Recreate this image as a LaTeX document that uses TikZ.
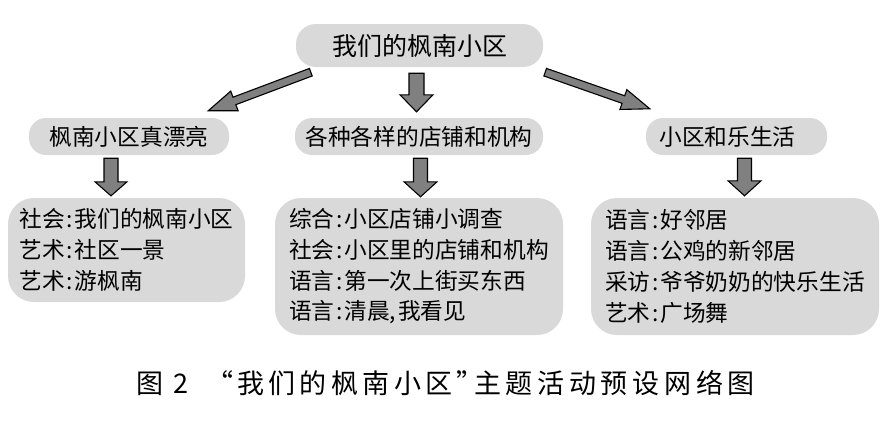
\documentclass[tikz,border=0pt]{standalone}
\usepackage{fontspec}
\usetikzlibrary{calc}
\newfontfamily\cjk{Noto Sans CJK SC}
\definecolor{boxgray}{RGB}{217,217,217}
\definecolor{arrgray}{RGB}{128,128,128}
\newcommand\cln{\kern1.5pt:\kern2pt}
\newcommand\cb[2]{\makebox[#1pt][l]{#2}}
\newcommand\ca[1]{\cb{31.4}{#1}}
\newcommand\cc[1]{\cb{31.75}{#1}}
\tikzset{
  x=1pt, y=-1pt,
  topbox/.style={fill=boxgray, rounded corners=20pt, inner sep=0pt, minimum width=247pt, minimum height=43pt, font={\cjk\fontsize{25pt}{30pt}\selectfont}},
  midbox/.style={fill=boxgray, rounded corners=17pt, inner sep=0pt, minimum height=37pt, font={\cjk\fontsize{22.7pt}{28pt}\selectfont}},
  leafbox/.style={fill=boxgray, rounded corners=26pt, inner sep=0pt, align=left, font={\cjk\fontsize{22.7pt}{30.7pt}\selectfont}},
  arrowstyle/.style={draw=black, fill=arrgray, line width=1.1pt, line join=miter},
  captext/.style={inner sep=0pt, font={\cjk\fontsize{27pt}{30pt}\selectfont}}
}
% block arrow: from, to, shaft half width, head half width, head length
\newcommand\blockarr[5]{%
  \draw[arrowstyle] let \p1=(#1), \p2=(#2),
    \n1={veclen(\x2-\x1,\y2-\y1)}, \n2={atan2(\y2-\y1,\x2-\x1)} in
    [shift={(\p1)}, rotate=\n2]
    (0pt,-#3pt) -- (\n1*1pt-#5pt,-#3pt) -- (\n1*1pt-#5pt,-#4pt) -- (\n1*1pt,0pt)
    -- (\n1*1pt-#5pt,#4pt) -- (\n1*1pt-#5pt,#3pt) -- (0pt,#3pt) -- cycle;}
\begin{document}
\begin{tikzpicture}
\useasboundingbox (0,0) rectangle (888,423);
\fill[white] (0,0) rectangle (888,423);

\node[topbox] (top) at (419.5,45.5) {我们的枫南小区};

\node[midbox, minimum width=200pt] (m1) at (129,136.5) {枫南小区真漂亮};
\node[midbox, minimum width=248pt] (m2) at (419,136.5) {各种各样的店铺和机构};
\node[midbox, minimum width=181pt] (m3) at (736.5,136.5) {小区和乐生活\hspace*{18pt}};

\node[leafbox, minimum width=237pt, minimum height=104pt] (l1) at (126.5,250)
  {社会\cln 我们的枫南小区\\艺术\cln 社区一景\\艺术\cln 游枫南};
\node[leafbox, minimum width=288pt, minimum height=137pt] (l2) at (419,266.5)
  {综合\cln 小区店铺小调查\\社会\cln 小区里的店铺和机构\\语言\cln 第一次上街买东西\\语言\cln 清晨,\kern2pt 我看见};
\node[leafbox, minimum width=288pt, minimum height=137pt] (l3) at (735,266.5)
  {语言\cln 好邻居\\语言\cln 公鸡的新邻居\\采访\cln 爷爷奶奶的快乐生活\\艺术\cln 广场舞};

% connector end points
\coordinate (a1s) at ([shift={(15,5)}]top.south west);
\coordinate (a1e) at ([shift={(-21,-7)}]m1.north east);
\coordinate (a2s) at ([shift={(-3,6)}]top.south);
\coordinate (a2e) at ([shift={(-2.5,-6)}]m2.north);
\coordinate (a3s) at ([shift={(2,5)}]top.south east);
\coordinate (a3e) at ([shift={(4,-9)}]m3.north west);
\coordinate (b1s) at ([shift={(-18,3)}]m1.south);
\coordinate (b1e) at ([shift={(-18,-2)}]l1.north -| m1.south);
\coordinate (b2s) at ([shift={(1.5,3)}]m2.south);
\coordinate (b2e) at ([shift={(1.5,-1)}]l2.north);
\coordinate (b3s) at ([shift={(8,3)}]m3.south);
\coordinate (b3e) at ([shift={(8,-2)}]l3.north -| m3.south);

\blockarr{a1s}{a1e}{4}{10.5}{28}
\blockarr{a2s}{a2e}{7.5}{16.5}{17}
\blockarr{a3s}{a3e}{4}{10.5}{28}
\blockarr{b1s}{b1e}{7}{16}{14}
\blockarr{b2s}{b2e}{7}{16.5}{15}
\blockarr{b3s}{b3e}{7}{16.5}{15}

\node[captext, anchor=west] (cap) at (136,383) {\cb{37}{图}\cb{33}{2}\cb{31}{“}%
\ca{我}\ca{们}\ca{的}\ca{枫}\ca{南}\ca{小}\ca{区}\cb{17}{”}%
\cc{主}\cc{题}\cc{活}\cc{动}\cc{预}\cc{设}\cc{网}\cc{络}\makebox[27pt][l]{图}};
\end{tikzpicture}
\end{document}
